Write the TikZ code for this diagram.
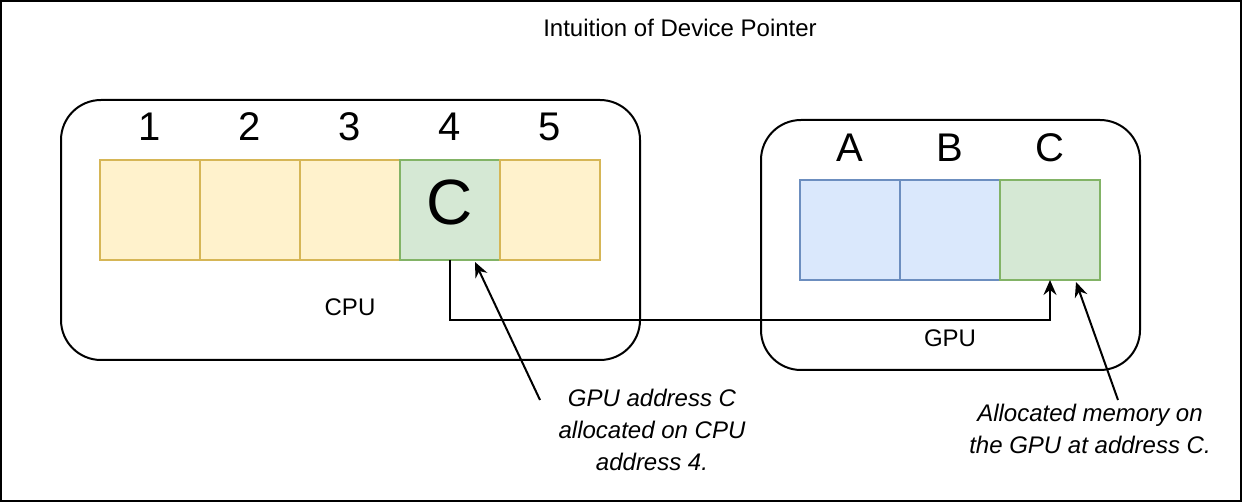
\documentclass[tikz,border=0pt]{standalone}
\usepackage{fontspec}
\setmainfont{Liberation Sans}
\usetikzlibrary{positioning,arrows.meta}

\definecolor{yfill}{HTML}{FFF2CC}
\definecolor{ydraw}{HTML}{D6B656}
\definecolor{bfill}{HTML}{DAE8FC}
\definecolor{bdraw}{HTML}{6C8EBF}
\definecolor{gfill}{HTML}{D5E8D4}
\definecolor{gdraw}{HTML}{82B366}

\tikzset{
    cell/.style={draw, line width=2pt, minimum size=100pt, inner sep=0pt, outer sep=0pt},
    ycell/.style={cell, fill=yfill, draw=ydraw},
    bcell/.style={cell, fill=bfill, draw=bdraw},
    gcell/.style={cell, fill=gfill, draw=gdraw},
    idx/.style={font=\fontsize{40}{48}\selectfont},
    lbl/.style={font=\fontsize{24}{29}\selectfont},
    note/.style={font=\fontsize{24}{32}\selectfont\itshape, align=center},
    conn/.style={line width=2pt, -{Stealth[length=15pt,width=13pt,inset=5pt]}},
}

\begin{document}
\begin{tikzpicture}[x=1pt,y=-1pt]
    \useasboundingbox (0,0) rectangle (1242,502);
    \draw[line width=2pt] (1,1) rectangle (1241,501);
    \node[lbl] (title) at (680,28) {Intuition of Device Pointer};

    % CPU side
    \draw[line width=2pt, rounded corners=40pt] (61,100) rectangle (640,360);
    \node[ycell] (c1) at (150,210) {};
    \node[ycell, right=0pt of c1] (c2) {};
    \node[ycell, right=0pt of c2] (c3) {};
    \node[gcell, right=0pt of c3] (c4) {};
    \node[ycell, right=0pt of c4] (c5) {};
    \node[font=\fontsize{64}{70}\selectfont] (cC) at (450,202) {C};
    \foreach \i in {1,...,5}
        \node[idx] (n\i) at (50+100*\i,127) {\i};
    \node[lbl] (cpu) at (350,307) {CPU};

    % GPU side
    \draw[line width=2pt, rounded corners=40pt] (761,120) rectangle (1140,370);
    \node[bcell] (g1) at (850,230) {};
    \node[bcell, right=0pt of g1] (g2) {};
    \node[gcell, right=0pt of g2] (g3) {};
    \node[idx] (gA) at (850,148) {A};
    \node[idx] (gB) at (950,148) {B};
    \node[idx] (gC) at (1050,148) {C};
    \node[lbl] (gpu) at (950,338) {GPU};

    % pointer
    \draw[conn] (c4.south) -- ++(0,60) -| (g3.south);

    % notes
    \node[note] (t1) at (652,430) {GPU address C\\allocated on CPU\\address 4.};
    \node[note] (t2) at (1090,429) {Allocated memory on\\the GPU at address C.};
    \coordinate (a1) at (540,400);
    \coordinate (b1) at (475,262);
    \coordinate (a2) at (1118,400);
    \coordinate (b2) at (1076,282);
    \draw[conn] (a1) -- (b1);
    \draw[conn] (a2) -- (b2);
\end{tikzpicture}
\end{document}
